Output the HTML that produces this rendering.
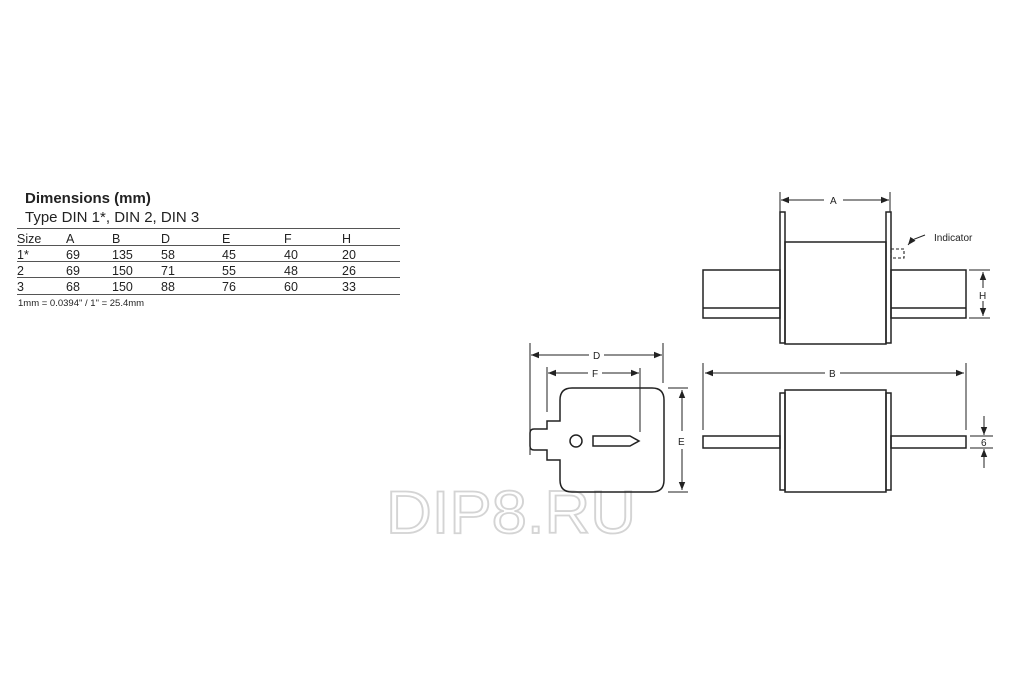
<!DOCTYPE html>
<html><head><meta charset="utf-8"><style>
html,body{margin:0;padding:0;background:#fff;}
svg{display:block;}
text{font-family:"Liberation Sans",sans-serif;fill:#222;}
</style></head><body>
<svg width="1024" height="682" viewBox="0 0 1024 682" xmlns="http://www.w3.org/2000/svg">
<defs>
<marker id="ar" viewBox="0 0 10 10" refX="10" refY="5" markerWidth="8" markerHeight="8" orient="auto-start-reverse"><path d="M0,1 L10,5 L0,9 z" fill="#222"/></marker>
</defs>
<!-- watermark -->
<text x="386" y="533" font-size="60" textLength="250" lengthAdjust="spacingAndGlyphs" style="fill:none;stroke:#d4d4d4;stroke-width:1.8">DIP8.RU</text>
<!-- table -->
<text x="25" y="203" font-size="15" font-weight="bold">Dimensions (mm)</text>
<text x="25" y="222" font-size="15">Type DIN 1*, DIN 2, DIN 3</text>
<g stroke="#555" stroke-width="1">
<line x1="17" y1="228.5" x2="400" y2="228.5"/>
<line x1="17" y1="245.5" x2="400" y2="245.5"/>
<line x1="17" y1="261.5" x2="400" y2="261.5"/>
<line x1="17" y1="277.5" x2="400" y2="277.5"/>
<line x1="17" y1="294.5" x2="400" y2="294.5"/>
</g>
<g font-size="12.5">
<text x="17" y="243">Size</text><text x="66" y="243">A</text><text x="112" y="243">B</text><text x="161" y="243">D</text><text x="222" y="243">E</text><text x="284" y="243">F</text><text x="342" y="243">H</text>
<text x="17" y="259">1*</text><text x="66" y="259">69</text><text x="112" y="259">135</text><text x="161" y="259">58</text><text x="222" y="259">45</text><text x="284" y="259">40</text><text x="342" y="259">20</text>
<text x="17" y="275">2</text><text x="66" y="275">69</text><text x="112" y="275">150</text><text x="161" y="275">71</text><text x="222" y="275">55</text><text x="284" y="275">48</text><text x="342" y="275">26</text>
<text x="17" y="291">3</text><text x="66" y="291">68</text><text x="112" y="291">150</text><text x="161" y="291">88</text><text x="222" y="291">76</text><text x="284" y="291">60</text><text x="342" y="291">33</text>
</g>
<text x="18" y="306" font-size="9.5">1mm = 0.0394" / 1" = 25.4mm</text>

<g fill="none" stroke="#222" stroke-width="1.5">
<!-- TOP VIEW -->
<line x1="780" y1="192" x2="780" y2="212" stroke-width="1"/>
<line x1="890" y1="192" x2="890" y2="212" stroke-width="1"/>
<line x1="781" y1="200" x2="824" y2="200" stroke-width="1" marker-start="url(#ar)"/>
<line x1="843" y1="200" x2="889" y2="200" stroke-width="1" marker-end="url(#ar)"/>
<rect x="703" y="270" width="77" height="48"/>
<line x1="703" y1="308" x2="780" y2="308"/>
<rect x="891" y="270" width="75" height="48"/>
<line x1="891" y1="308" x2="966" y2="308"/>
<rect x="780" y="212" width="5" height="131"/>
<rect x="886" y="212" width="5" height="131"/>
<rect x="785" y="242" width="101" height="102"/>
<rect x="891" y="249" width="13" height="9" stroke-dasharray="3,2" stroke-width="1.1"/>
<path d="M925,235 L912,240 L908,245" stroke-width="1" marker-end="url(#ar)"/>
<line x1="969" y1="270" x2="990" y2="270" stroke-width="1"/>
<line x1="969" y1="318" x2="990" y2="318" stroke-width="1"/>
<line x1="983" y1="272" x2="983" y2="288" stroke-width="1" marker-start="url(#ar)"/>
<line x1="983" y1="301" x2="983" y2="316" stroke-width="1" marker-end="url(#ar)"/>

<!-- END VIEW -->
<line x1="530" y1="343" x2="530" y2="455" stroke-width="1"/>
<line x1="663" y1="343" x2="663" y2="383" stroke-width="1"/>
<line x1="531" y1="355" x2="589" y2="355" stroke-width="1" marker-start="url(#ar)"/>
<line x1="604" y1="355" x2="662" y2="355" stroke-width="1" marker-end="url(#ar)"/>
<line x1="547" y1="367" x2="547" y2="412" stroke-width="1"/>
<line x1="640" y1="368" x2="640" y2="432" stroke-width="1"/>
<line x1="548" y1="373" x2="588" y2="373" stroke-width="1" marker-start="url(#ar)"/>
<line x1="602" y1="373" x2="639" y2="373" stroke-width="1" marker-end="url(#ar)"/>
<path d="M572,388 L652,388 Q664,388 664,400 L664,480 Q664,492 652,492 L572,492 Q560,492 560,480 L560,460 L547,460 L547,450 L534,450 Q530,450 530,446 L530,433 Q530,429 534,429 L547,429 L547,421 L560,421 L560,400 Q560,388 572,388 Z"/>
<circle cx="576" cy="441" r="6"/>
<path d="M593,436 L630,436 L639,441 L630,446 L593,446 Z"/>
<line x1="668" y1="388" x2="688" y2="388" stroke-width="1"/>
<line x1="668" y1="492" x2="688" y2="492" stroke-width="1"/>
<line x1="682" y1="390" x2="682" y2="431" stroke-width="1" marker-start="url(#ar)"/>
<line x1="682" y1="449" x2="682" y2="490" stroke-width="1" marker-end="url(#ar)"/>

<!-- SIDE VIEW -->
<line x1="703" y1="363" x2="703" y2="430" stroke-width="1"/>
<line x1="966" y1="363" x2="966" y2="430" stroke-width="1"/>
<line x1="705" y1="373" x2="825" y2="373" stroke-width="1" marker-start="url(#ar)"/>
<line x1="840" y1="373" x2="964" y2="373" stroke-width="1" marker-end="url(#ar)"/>
<rect x="703" y="436" width="77" height="12"/>
<rect x="891" y="436" width="75" height="12"/>
<rect x="780" y="393" width="5" height="97"/>
<rect x="886" y="393" width="5" height="97"/>
<rect x="785" y="390" width="101" height="102"/>
<line x1="970" y1="436" x2="993" y2="436" stroke-width="1"/>
<line x1="970" y1="448" x2="993" y2="448" stroke-width="1"/>
<line x1="984" y1="416" x2="984" y2="435" stroke-width="1" marker-end="url(#ar)"/>
<line x1="984" y1="468" x2="984" y2="449" stroke-width="1" marker-end="url(#ar)"/>
</g>
<g font-size="10">
<text x="830" y="204">A</text>
<text x="934" y="241">Indicator</text>
<text x="979" y="299">H</text>
<text x="593" y="359">D</text>
<text x="592" y="377">F</text>
<text x="678" y="445">E</text>
<text x="829" y="377">B</text>
<text x="981" y="446">6</text>
</g>
</svg>
</body></html>
